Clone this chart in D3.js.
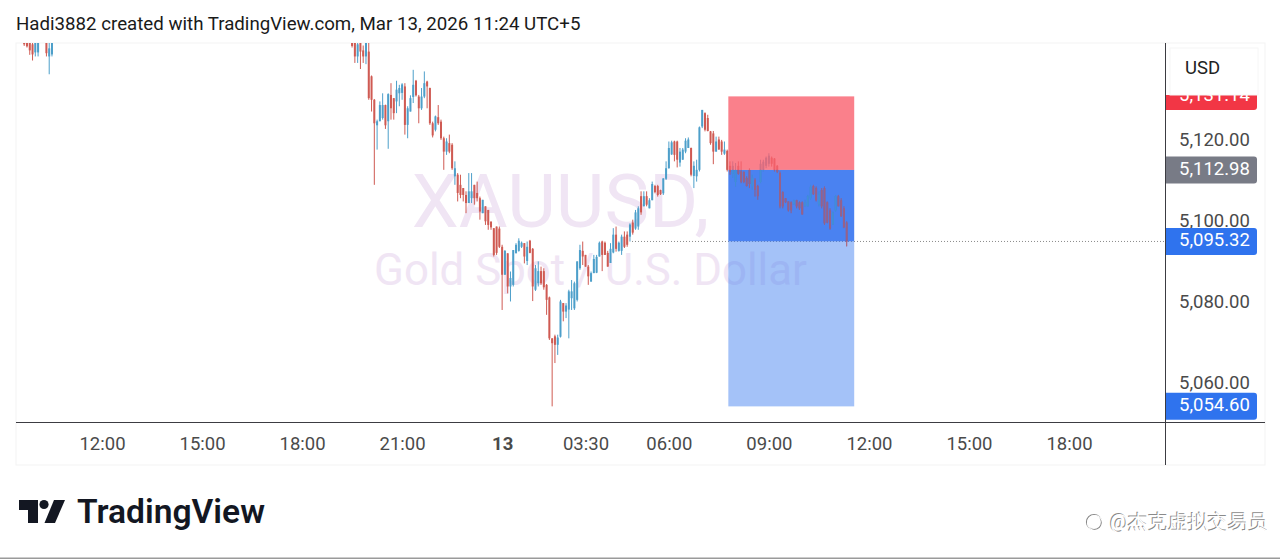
<!DOCTYPE html>
<html>
<head>
<meta charset="utf-8">
<script src="https://cdnjs.cloudflare.com/ajax/libs/d3/7.8.5/d3.min.js"></script>
<style>
  html, body { margin: 0; padding: 0; background: #fff; }
  svg { display: block; }
  text { font-family: Roboto, sans-serif; }
</style>
</head>
<body>
<div id="chart"></div>
<script>
// 5 min bars counted from 12:00 on Mar 12, the session break makes 03:30 bar 174
const timeTickBars = [0, 36, 72, 108, 144, 174, 204, 240, 276, 312, 348];
const timeTickLabels = ["12:00", "15:00", "18:00", "21:00", "13", "03:30", "06:00", "09:00", "12:00", "15:00", "18:00"];
const priceTicks = [5120, 5100, 5080, 5060];

const stopPrice = 5131.14;
const entryPrice = 5112.98;
const lastPrice = 5095.32;
const targetPrice = 5054.6;
const positionBars = [225.4, 270.7];

// bar, open, high, low, close
const candlesLeft = [
  [-28, 5146.0, 5146.5, 5143.6, 5144.0], [-27, 5145.0, 5146.0, 5143.2, 5143.5], [-26, 5145.0, 5146.0, 5141.4, 5142.5],
  [-25, 5144.0, 5146.0, 5140.0, 5141.5], [-24, 5142.0, 5146.0, 5141.0, 5145.0], [-23, 5142.0, 5146.0, 5141.0, 5145.0],
  [-20, 5146.0, 5146.5, 5141.0, 5141.8], [-19, 5141.0, 5146.0, 5136.6, 5143.0], [-18, 5141.5, 5146.0, 5141.0, 5145.0]
];
const candlesMain = [
  [90, 5145.0, 5146.0, 5143.2, 5143.6], [91, 5145.0, 5146.0, 5139.4, 5141.0], [92, 5141.0, 5146.0, 5139.4, 5144.0],
  [93, 5144.5, 5146.0, 5137.9, 5142.2], [94, 5142.5, 5143.7, 5139.4, 5141.0], [95, 5141.0, 5146.0, 5139.1, 5144.5],
  [96, 5142.2, 5144.7, 5130.3, 5130.7], [97, 5136.1, 5136.3, 5127.4, 5130.3], [98, 5130.3, 5130.5, 5109.3, 5124.5],
  [99, 5124.0, 5125.4, 5118.0, 5125.0], [100, 5125.0, 5129.9, 5125.0, 5129.0], [101, 5125.8, 5131.9, 5125.4, 5129.0],
  [102, 5129.0, 5129.1, 5123.1, 5124.0], [103, 5125.0, 5131.9, 5118.2, 5131.7], [104, 5131.5, 5134.4, 5125.4, 5128.2],
  [105, 5130.7, 5130.7, 5125.4, 5127.0], [106, 5129.9, 5135.0, 5127.0, 5132.8], [107, 5131.9, 5134.0, 5128.7, 5133.2],
  [108, 5132.0, 5134.4, 5130.3, 5134.1], [109, 5133.6, 5134.4, 5121.7, 5124.1], [110, 5124.1, 5128.7, 5120.8, 5128.2],
  [111, 5127.4, 5131.4, 5127.4, 5130.7], [112, 5131.0, 5137.7, 5129.5, 5134.0], [113, 5135.0, 5135.2, 5131.1, 5131.4],
  [114, 5131.1, 5131.5, 5124.5, 5128.2], [115, 5128.2, 5133.2, 5127.8, 5131.1], [116, 5131.1, 5137.3, 5130.7, 5134.4],
  [117, 5134.8, 5135.0, 5128.2, 5133.6], [118, 5133.2, 5133.3, 5124.1, 5124.5], [119, 5124.5, 5124.9, 5121.0, 5121.5],
  [120, 5122.9, 5126.4, 5122.5, 5126.2], [121, 5126.0, 5129.0, 5124.1, 5124.5], [122, 5124.9, 5125.4, 5120.4, 5120.8],
  [123, 5120.8, 5121.2, 5113.0, 5117.5], [124, 5117.5, 5120.8, 5116.7, 5120.0], [125, 5119.6, 5121.7, 5117.1, 5117.5],
  [126, 5119.2, 5119.6, 5113.0, 5113.4], [127, 5111.4, 5115.1, 5109.3, 5113.4], [128, 5111.8, 5112.2, 5105.2, 5107.3],
  [129, 5109.3, 5111.8, 5106.0, 5106.8], [130, 5108.5, 5108.5, 5105.2, 5106.8], [131, 5106.8, 5107.7, 5102.3, 5104.8],
  [132, 5104.8, 5112.2, 5104.8, 5107.7], [133, 5106.0, 5112.2, 5104.8, 5107.7], [134, 5109.3, 5109.3, 5104.4, 5106.0],
  [135, 5107.3, 5110.1, 5105.2, 5106.0], [136, 5106.0, 5106.4, 5100.7, 5102.7], [137, 5102.3, 5105.6, 5102.3, 5105.6],
  [138, 5104.0, 5104.0, 5099.4, 5100.3], [139, 5103.1, 5103.1, 5098.2, 5099.4], [140, 5100.2, 5100.3, 5098.2, 5098.8],
  [141, 5098.6, 5098.6, 5091.6, 5092.0], [142, 5099.0, 5099.0, 5092.0, 5092.5], [143, 5098.5, 5099.0, 5093.7, 5094.0],
  [144, 5094.0, 5094.5, 5078.4, 5087.1], [145, 5087.1, 5093.2, 5087.1, 5093.0], [146, 5092.4, 5092.4, 5082.5, 5084.2],
  [147, 5084.2, 5087.9, 5080.5, 5086.3], [148, 5084.6, 5093.2, 5084.2, 5093.2], [149, 5092.4, 5094.9, 5092.4, 5094.5],
  [150, 5093.0, 5096.1, 5092.8, 5095.5], [151, 5094.0, 5095.3, 5093.7, 5095.0], [152, 5094.9, 5094.9, 5089.9, 5091.6],
  [153, 5090.5, 5095.3, 5089.5, 5094.0], [154, 5095.5, 5095.7, 5092.4, 5092.5], [155, 5093.5, 5093.7, 5080.6, 5084.2],
  [156, 5083.4, 5089.5, 5083.1, 5088.7], [157, 5085.0, 5090.4, 5084.2, 5088.0], [158, 5088.0, 5089.1, 5084.6, 5085.0],
  [159, 5088.0, 5088.7, 5083.4, 5084.0], [160, 5084.6, 5084.8, 5077.2, 5080.9], [161, 5081.5, 5081.7, 5071.0, 5071.4],
  [162, 5071.4, 5071.4, 5054.6, 5070.2], [163, 5071.9, 5072.3, 5065.3, 5069.8], [164, 5069.8, 5072.3, 5067.3, 5071.6],
  [165, 5071.8, 5080.9, 5071.6, 5080.5], [166, 5080.1, 5080.1, 5075.6, 5078.0], [167, 5078.0, 5080.1, 5076.4, 5079.5],
  [168, 5078.5, 5083.4, 5071.4, 5083.0], [169, 5081.3, 5085.8, 5078.4, 5083.0], [170, 5078.8, 5085.4, 5078.4, 5085.0],
  [171, 5080.9, 5090.4, 5080.5, 5090.4], [172, 5088.7, 5094.5, 5088.3, 5093.2], [173, 5093.0, 5095.3, 5089.5, 5091.6],
  [174, 5092.0, 5092.0, 5089.1, 5089.1], [175, 5089.1, 5089.5, 5084.6, 5086.7], [176, 5085.4, 5087.9, 5085.4, 5087.5],
  [177, 5087.5, 5092.0, 5087.5, 5091.0], [178, 5087.6, 5092.0, 5087.5, 5091.5], [179, 5091.6, 5095.3, 5091.6, 5095.0],
  [180, 5095.3, 5095.5, 5088.0, 5092.0], [181, 5095.0, 5095.3, 5092.0, 5092.0], [182, 5092.5, 5093.0, 5089.1, 5089.1],
  [183, 5090.0, 5094.9, 5090.0, 5093.5], [184, 5092.6, 5098.6, 5092.4, 5097.0], [185, 5097.0, 5099.0, 5092.8, 5093.5],
  [186, 5093.0, 5095.3, 5092.8, 5095.0], [187, 5093.0, 5097.0, 5092.0, 5096.5], [188, 5096.5, 5097.8, 5093.7, 5094.0],
  [189, 5097.0, 5097.8, 5094.0, 5094.5], [190, 5096.5, 5099.8, 5095.3, 5099.5], [191, 5100.0, 5100.7, 5097.0, 5097.5],
  [192, 5098.5, 5103.1, 5098.2, 5102.5], [193, 5099.0, 5104.0, 5098.2, 5103.5], [194, 5106.5, 5107.7, 5101.9, 5102.5],
  [195, 5104.0, 5107.7, 5104.0, 5106.5], [196, 5106.5, 5107.7, 5104.0, 5104.4], [197, 5103.5, 5106.0, 5103.5, 5105.5],
  [198, 5105.5, 5110.1, 5105.5, 5109.5], [199, 5109.0, 5109.3, 5107.2, 5107.5], [200, 5109.0, 5109.3, 5106.4, 5106.8],
  [201, 5108.0, 5108.1, 5106.8, 5107.0], [202, 5107.2, 5110.9, 5106.8, 5110.9], [203, 5110.8, 5115.1, 5110.5, 5113.4],
  [204, 5113.4, 5120.0, 5113.3, 5118.4], [205, 5116.8, 5120.2, 5116.7, 5119.8], [206, 5120.0, 5120.2, 5115.1, 5116.7],
  [207, 5120.0, 5120.2, 5113.6, 5115.5], [208, 5114.8, 5118.4, 5113.8, 5117.5], [209, 5115.5, 5118.4, 5115.5, 5118.0],
  [210, 5117.5, 5120.8, 5117.1, 5120.2], [211, 5118.4, 5121.0, 5118.4, 5120.5], [212, 5118.4, 5118.5, 5111.4, 5111.8],
  [213, 5111.5, 5115.1, 5108.5, 5114.0], [214, 5111.4, 5115.5, 5110.1, 5113.0], [215, 5113.0, 5123.7, 5112.6, 5123.5],
  [216, 5123.7, 5127.8, 5123.3, 5127.8], [217, 5127.0, 5127.2, 5122.5, 5122.9], [218, 5125.8, 5126.6, 5122.5, 5122.6],
  [219, 5122.5, 5122.6, 5119.2, 5119.6], [220, 5122.0, 5122.6, 5114.4, 5117.5], [221, 5117.5, 5121.2, 5117.5, 5120.0],
  [222, 5120.5, 5121.2, 5118.0, 5118.0], [223, 5120.0, 5120.4, 5116.7, 5117.5], [224, 5117.0, 5120.0, 5116.7, 5118.0],
  [225, 5117.7, 5118.0, 5112.6, 5113.0], [226, 5114.0, 5115.1, 5111.8, 5112.5], [227, 5112.0, 5115.1, 5111.0, 5114.0],
  [228, 5110.0, 5114.7, 5108.9, 5113.0], [229, 5114.0, 5115.1, 5111.8, 5112.0], [230, 5112.6, 5115.1, 5109.7, 5110.1],
  [231, 5112.5, 5112.6, 5109.7, 5110.0], [232, 5111.0, 5111.4, 5108.9, 5109.0], [233, 5113.0, 5113.4, 5108.5, 5109.5],
  [234, 5109.0, 5111.8, 5108.1, 5111.0], [235, 5110.5, 5110.9, 5106.4, 5108.1], [236, 5109.0, 5109.3, 5105.6, 5106.5],
  [237, 5110.0, 5115.5, 5109.7, 5114.5], [238, 5113.0, 5115.5, 5112.6, 5115.0], [239, 5114.0, 5116.3, 5113.4, 5116.0],
  [240, 5114.5, 5117.1, 5113.8, 5116.5], [241, 5116.0, 5116.3, 5113.8, 5114.5], [242, 5115.8, 5115.9, 5112.6, 5113.0],
  [243, 5114.0, 5114.2, 5112.2, 5112.5], [244, 5112.2, 5112.6, 5103.5, 5104.0], [245, 5107.5, 5107.7, 5103.5, 5104.0],
  [246, 5106.0, 5106.0, 5104.8, 5105.0], [247, 5105.2, 5105.2, 5102.7, 5103.0], [248, 5105.0, 5105.2, 5102.3, 5103.0],
  [249, 5104.5, 5105.6, 5104.4, 5105.5], [250, 5105.5, 5105.6, 5103.5, 5104.0], [251, 5105.0, 5105.2, 5103.1, 5103.5],
  [252, 5105.0, 5105.2, 5101.9, 5102.0], [253, 5104.0, 5105.6, 5104.0, 5105.0], [254, 5104.0, 5106.8, 5104.0, 5106.5],
  [255, 5106.0, 5109.3, 5105.6, 5108.8], [256, 5109.0, 5109.3, 5106.8, 5107.0], [257, 5108.5, 5108.9, 5105.2, 5105.5],
  [258, 5104.5, 5107.7, 5104.0, 5107.0], [259, 5108.0, 5108.5, 5103.5, 5104.0], [260, 5108.5, 5108.9, 5099.4, 5099.8],
  [261, 5105.0, 5105.2, 5099.8, 5100.0], [262, 5103.0, 5103.5, 5098.2, 5098.5], [263, 5099.5, 5102.7, 5099.4, 5102.5],
  [264, 5103.0, 5106.8, 5102.7, 5106.5], [265, 5106.5, 5106.8, 5104.0, 5104.0], [266, 5105.5, 5106.0, 5101.5, 5101.5],
  [267, 5103.5, 5104.0, 5098.6, 5098.8], [268, 5100.0, 5100.3, 5094.1, 5095.32]
];
const candles = candlesLeft.concat(candlesMain);

const width = 1280;
const height = 559;
const plot = { left: 16, right: 1165, top: 43, bottom: 422, frameRight: 1265, frameBottom: 465 };

const svg = d3.select("#chart").append("svg").attr("width", width).attr("height", height);

// Scales
const x = d3.scaleLinear().domain([0, 348]).range([102, 1069]);
const y = d3.scaleLinear().domain([5060, 5120]).range([384.5, 141.5]);
const fmt = d3.format(",.2f");

// Frame
svg.append("rect")
  .attr("x", plot.left).attr("y", plot.top)
  .attr("width", plot.frameRight - plot.left).attr("height", plot.frameBottom - plot.top)
  .attr("fill", "#fff").attr("stroke", "#f3f3f3");

const boxX = x(positionBars[0]);
const boxW = x(positionBars[1]) - boxX;

const defs = svg.append("defs");
defs.append("clipPath").attr("id", "plot-clip")
  .append("rect")
  .attr("x", plot.left).attr("y", plot.top)
  .attr("width", plot.right - plot.left).attr("height", plot.bottom - plot.top);
defs.append("clipPath").attr("id", "position-clip")
  .append("rect")
  .attr("x", boxX).attr("y", y(entryPrice))
  .attr("width", boxW).attr("height", y(targetPrice) - y(entryPrice));
// the source is a soft jpeg, candles look slightly smeared
defs.append("filter").attr("id", "soft")
  .append("feGaussianBlur").attr("stdDeviation", 0.35);

const g = svg.append("g").attr("clip-path", "url(#plot-clip)");

// Symbol watermark
g.append("text").attr("x", 560.5).attr("y", 227).attr("text-anchor", "middle")
  .attr("font-size", 75).attr("fill", "#f0e5f4").text("XAUUSD,");
g.append("text").attr("x", 590.5).attr("y", 285).attr("text-anchor", "middle")
  .attr("font-size", 43.8).attr("fill", "#f0e5f4").text("Gold Spot / U.S. Dollar");

// Last price line
g.append("line")
  .attr("x1", 632).attr("x2", plot.right)
  .attr("y1", y(lastPrice)).attr("y2", y(lastPrice))
  .attr("stroke", "#8a8a8a").attr("stroke-dasharray", "1,2");

// Candles
const upColor = "#4d9fca";
const downColor = "#cf5a52";
const candleColor = (d) => (d[4] >= d[1] ? upColor : downColor);

function drawCandles(parent) {
  parent.selectAll(".wick")
    .data(candles)
    .enter()
    .append("line")
    .attr("class", "wick")
    .attr("x1", (d) => x(d[0]))
    .attr("x2", (d) => x(d[0]))
    .attr("y1", (d) => y(d[2]))
    .attr("y2", (d) => y(d[3]))
    .attr("stroke", candleColor)
    .attr("stroke-width", 1);

  parent.selectAll(".body")
    .data(candles)
    .enter()
    .append("rect")
    .attr("class", "body")
    .attr("x", (d) => x(d[0]) - 1)
    .attr("y", (d) => y(Math.max(d[1], d[4])))
    .attr("width", 2)
    .attr("height", (d) => Math.max(1, Math.abs(y(d[1]) - y(d[4]))))
    .attr("fill", candleColor);
}

drawCandles(g.append("g").attr("filter", "url(#soft)"));

// Position tool, sits on top of the candles
g.append("rect").attr("x", boxX).attr("width", boxW)
  .attr("y", y(stopPrice)).attr("height", y(entryPrice) - y(stopPrice))
  .attr("fill", "#f9606e").attr("fill-opacity", 0.8);
g.append("rect").attr("x", boxX).attr("width", boxW)
  .attr("y", y(entryPrice)).attr("height", y(lastPrice) - y(entryPrice))
  .attr("fill", "#2f6fef").attr("fill-opacity", 0.87);
g.append("rect").attr("x", boxX).attr("width", boxW)
  .attr("y", y(lastPrice)).attr("height", y(targetPrice) - y(lastPrice))
  .attr("fill", "#4985f1").attr("fill-opacity", 0.5);

// candles still show fairly strong through the blue part
drawCandles(
  g.append("g")
    .attr("clip-path", "url(#position-clip)")
    .append("g")
    .attr("filter", "url(#soft)")
    .attr("opacity", 0.6)
);

// X-axis
const xAxis = svg.append("g")
  .attr("transform", `translate(0,${plot.bottom})`)
  .call(
    d3.axisBottom(x)
      .tickValues(timeTickBars)
      .tickFormat((d, i) => timeTickLabels[i])
      .tickSize(0)
      .tickPadding(15)
  );
xAxis.select(".domain").remove();
xAxis.selectAll("text")
  .attr("font-family", "Roboto, sans-serif")
  .attr("font-size", 18.5)
  .attr("fill", "#4a4a4a")
  .attr("font-weight", (d, i) => (timeTickLabels[i] === "13" ? 700 : 400));

// Y-axis
const yAxis = svg.append("g")
  .attr("transform", `translate(${plot.right},0)`)
  .call(
    d3.axisRight(y)
      .tickValues(priceTicks)
      .tickFormat(fmt)
      .tickSize(0)
      .tickPadding(14)
  );
yAxis.select(".domain").remove();
yAxis.selectAll("text")
  .attr("font-family", "Roboto, sans-serif")
  .attr("font-size", 18.5)
  .attr("dy", "0.2em")
  .attr("fill", "#4a4a4a");

// Axis lines
svg.append("line").attr("x1", plot.left).attr("x2", plot.frameRight)
  .attr("y1", plot.bottom + 0.5).attr("y2", plot.bottom + 0.5).attr("stroke", "#3c3c42");
svg.append("line").attr("x1", plot.right + 0.5).attr("x2", plot.right + 0.5)
  .attr("y1", plot.top).attr("y2", plot.frameBottom).attr("stroke", "#3c3c42");

// Price labels
const priceLabels = [
  { price: stopPrice, color: "#f23645" },
  { price: entryPrice, color: "#787b86" },
  { price: lastPrice, color: "#2f73ee" },
  { price: targetPrice, color: "#2f73ee" },
];
const labelG = svg.selectAll(".price-label").data(priceLabels).enter().append("g").attr("class", "price-label");
labelG.append("path")
  .attr("d", (d) => {
    const top = y(d.price) - 13.5;
    return `M${plot.right + 1},${top}H1254a3,3 0 0 1 3,3V${top + 24}a3,3 0 0 1 -3,3H${plot.right + 1}Z`;
  })
  .attr("fill", (d) => d.color);
labelG.append("text")
  .attr("x", 1179)
  .attr("y", (d) => y(d.price) + 5)
  .attr("font-size", 18.5)
  .attr("fill", "#fff")
  .text((d) => fmt(d.price));

// Currency box covers the top of the stop label
svg.append("rect")
  .attr("x", 1166).attr("y", 80).attr("width", 92).attr("height", 15)
  .attr("fill", "#fff");
svg.append("rect")
  .attr("x", 1170).attr("y", 48).attr("width", 88).attr("height", 47)
  .attr("fill", "#fff").attr("stroke", "#f6f6f6");
svg.append("text").attr("x", 1185).attr("y", 74).attr("font-size", 18.5).attr("fill", "#222").text("USD");

// Header
svg.append("text").attr("x", 16).attr("y", 30).attr("font-size", 18.7).attr("fill", "#1a1a1a")
  .text("Hadi3882 created with TradingView.com, Mar 13, 2026 11:24 UTC+5");

// TradingView logo
const logo = svg.append("g").attr("fill", "#131722");
logo.append("path").attr("d", "M19,500H38V523H28V510H19Z");
logo.append("circle").attr("cx", 44).attr("cy", 504.5).attr("r", 4.6);
logo.append("path").attr("d", "M54,500H65L55,523H44.5Z");
svg.append("text").attr("x", 77).attr("y", 523).attr("font-family", "Inter, sans-serif")
  .attr("font-size", 33.6).attr("font-weight", 600).attr("fill", "#131722").text("TradingView");

// Repost watermark, embossed look
const emboss = svg.append("g").attr("font-family", "'Noto Sans CJK SC', sans-serif").attr("font-size", 20);
[["#8a8a8a", 0], ["#fff", 1]].forEach(([color, off]) => {
  emboss.append("text").attr("x", 1109 + off).attr("y", 528 + off).attr("fill", color).text("@杰克虚拟交易员");
  emboss.append("circle").attr("cx", 1094 + off).attr("cy", 522 + off).attr("r", 7.5)
    .attr("fill", "none").attr("stroke", color).attr("stroke-width", 1.2);
});

// Bottom edge of the screenshot
svg.append("rect").attr("x", 0).attr("y", 557.5).attr("width", width).attr("height", 1.5).attr("fill", "#9a9a9a");
</script>
</body>
</html>
